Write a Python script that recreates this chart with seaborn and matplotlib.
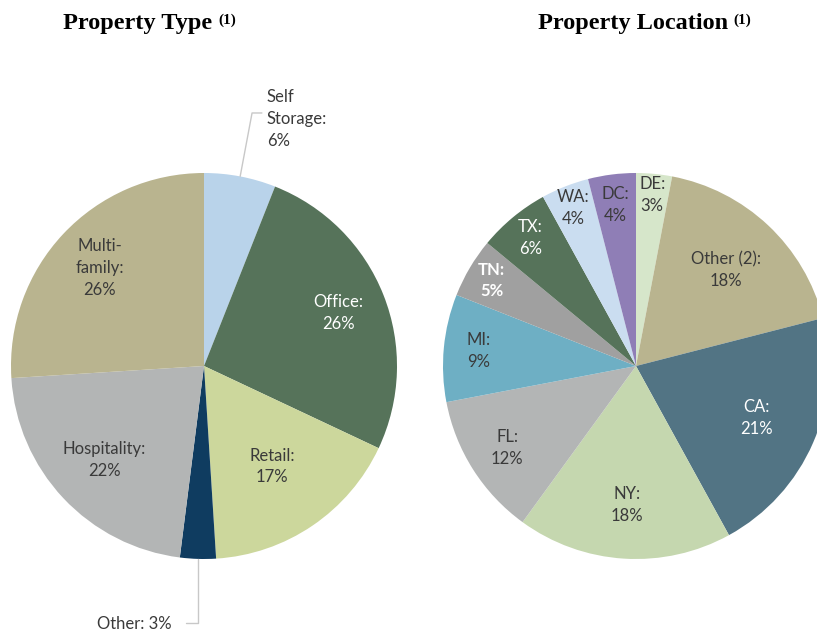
import numpy as np
import matplotlib
matplotlib.use("Agg")
import matplotlib.pyplot as plt
import seaborn as sns

# ---- data ----
type_labels = ["Self\nStorage:\n6%", "Office:\n26%", "Retail:\n17%", "Other: 3%",
               "Hospitality:\n22%", "Multi-\nfamily:\n26%"]
type_values = [6, 26, 17, 3, 22, 26]
type_colors = ["#B9D3EA", "#56735A", "#CCD79C", "#0F3C60", "#B3B5B5", "#B9B48F"]
type_text_colors = ["#3A3A3A", "white", "#3A3A3A", "#3A3A3A", "#3A3A3A", "#3A3A3A"]
type_label_dist = [None, 0.75, 0.63, None, 0.71, 0.74]

loc_labels = ["DE:\n3%", "Other (2):\n18%", "CA:\n21%", "NY:\n18%", "FL:\n12%",
              "MI:\n9%", "TN:\n5%", "TX:\n6%", "WA:\n4%", "DC:\n4%"]
loc_values = [3, 18, 21, 18, 12, 9, 5, 6, 4, 4]
loc_colors = ["#D6E6CA", "#B9B48F", "#527484", "#C5D7AF", "#B3B5B5",
              "#6EAFC4", "#A0A0A0", "#56735A", "#CADDF0", "#8F7EB6"]
loc_text_colors = ["#3A3A3A", "#3A3A3A", "white", "#3A3A3A", "#3A3A3A",
                   "#3A3A3A", "white", "white", "#3A3A3A", "#3A3A3A"]
loc_label_dist = [0.89, 0.68, 0.68, 0.72, 0.79, 0.82, 0.87, 0.86, 0.88, 0.84]

sns.set_theme(style="white")
plt.rcParams["font.family"] = ["Lato", "DejaVu Sans"]

W, H = 817, 636
FS = 12
LS = 1.45
fig = plt.figure(figsize=(W / 100, H / 100), dpi=100)


def pie_axes(cx, cy, r):
    ax = fig.add_axes([(cx - r) / W, (H - cy - r) / H, 2 * r / W, 2 * r / H])
    return ax


def draw_pie(ax, values, colors):
    ax.pie(values, colors=colors, startangle=90, counterclock=False,
           wedgeprops=dict(linewidth=0))
    ax.set_xlim(-1, 1)
    ax.set_ylim(-1, 1)
    ax.set_aspect("equal")
    ax.axis("off")


def mid_angles(values):
    v = np.array(values, dtype=float)
    cum = np.cumsum(v) - v / 2
    return np.deg2rad(cum / v.sum() * 360)  # clockwise from 12 o'clock


def put_labels(ax, values, labels, dists, tcolors, bold=()):
    angs = mid_angles(values)
    for i, (a, lab, d, c) in enumerate(zip(angs, labels, dists, tcolors)):
        if d is None:
            continue
        ax.text(d * np.sin(a), d * np.cos(a), lab, ha="center", va="center",
                fontsize=FS, color=c, linespacing=LS,
                fontweight="bold" if i in bold else "normal")


# ---- left pie: property type ----
axl = pie_axes(204, 366, 193)
draw_pie(axl, type_values, type_colors)
put_labels(axl, type_values, type_labels, type_label_dist, type_text_colors)

angs = mid_angles(type_values)
lead = "#C8C8C8"
# Self Storage leader
a = angs[0]
axl.plot([np.sin(a), 0.249, 0.30], [np.cos(a), 1.311, 1.311], color=lead, lw=1, clip_on=False)
axl.text(0.326, 1.28, type_labels[0], ha="left", va="center", fontsize=FS,
         color="#3A3A3A", linespacing=LS, clip_on=False)
# Other leader
a = angs[3]
axl.plot([np.sin(a), np.sin(a), -0.093], [np.cos(a), -1.332, -1.332], color=lead, lw=1, clip_on=False)
axl.text(-0.166, -1.335, type_labels[3], ha="right", va="center", fontsize=FS,
         color="#3A3A3A", clip_on=False)

# ---- right pie: property location ----
axr = pie_axes(636, 366, 193)
draw_pie(axr, loc_values, loc_colors)
put_labels(axr, loc_values, loc_labels, loc_label_dist, loc_text_colors, bold=(6,))

# ---- titles ----
for title, cx in [("Property Type", 138 / W), ("Property Location", 633 / W)]:
    t = fig.text(cx, 1 - 23 / H, title, ha="center", va="center", fontsize=17.5,
                 fontweight="bold", family="Liberation Serif", color="black")
    fig.canvas.draw()
    plt.annotate("(1)", xy=(1, 0.97), xycoords=t, xytext=(4, 0), textcoords="offset points",
                 ha="left", va="top", fontsize=11, fontweight="bold",
                 family="Liberation Serif", color="black", annotation_clip=False)

fig.savefig("out.png", dpi=100, facecolor="white")
